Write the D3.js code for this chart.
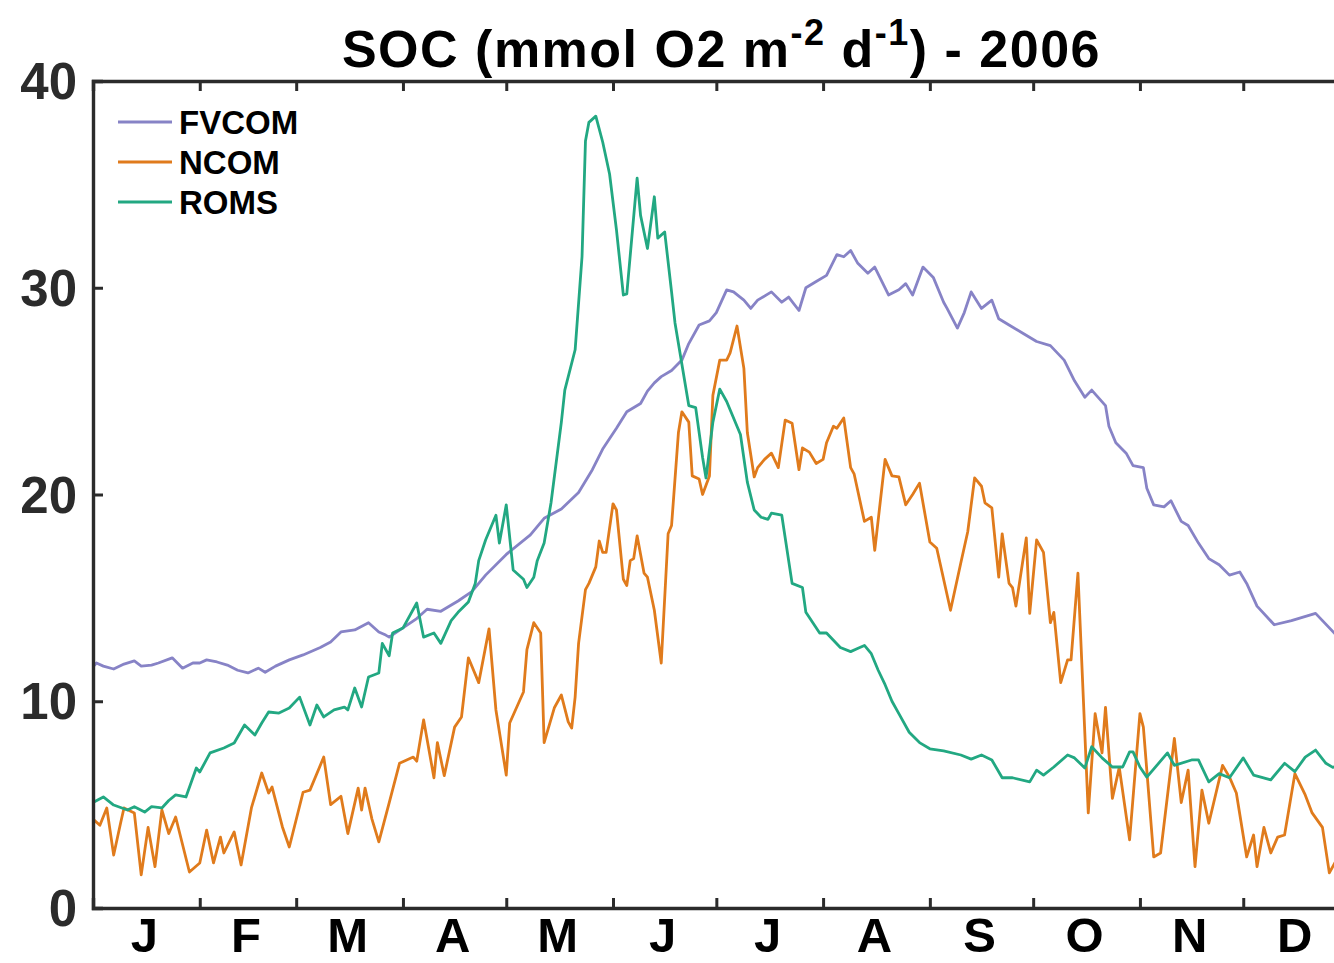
<!DOCTYPE html>
<html>
<head>
<meta charset="utf-8">
<script src="https://cdn.jsdelivr.net/npm/d3@7/dist/d3.min.js"></script>
<style>
  html, body { margin: 0; padding: 0; background: #fff; overflow: hidden; }
  svg { display: block; font-family: "Liberation Sans", Arial, Helvetica, sans-serif; }
</style>
</head>
<body>
<svg id="chart" width="1334" height="963"></svg>
<script>
// Sediment oxygen consumption, 2006 — day of year (0 = 1 Jan) and value pairs per model
const fvcomDays = [0,1,3,6,9,12,14,17,19,23,26,29,31,33,36,39,42,45,48,50,53,57,61,66,69,72,76,80,83,85,86,90,94,97,101,106,110,114,120,127,131,136,141,145,148,152,155,159,161,163,165,168,171,173,176,179,181,184,186,189,191,193,197,200,202,205,207,210,213,216,218,220,222,225,227,231,234,236,238,241,244,247,248,251,253,255,258,261,263,266,270,274,278,282,285,288,290,294,295,297,300,302,305,306,308,311,313,316,318,321,324,327,330,333,335,338,343,348,355,361];
const fvcomVals = [11.66,11.85,11.7,11.56,11.8,11.95,11.7,11.75,11.85,12.1,11.6,11.85,11.85,12.0,11.9,11.75,11.5,11.37,11.6,11.4,11.7,12.0,12.24,12.6,12.87,13.35,13.45,13.8,13.35,13.2,13.1,13.55,14.0,14.45,14.35,14.85,15.3,16.1,17.1,18.05,18.85,19.3,20.1,21.2,22.2,23.2,24.0,24.4,25.0,25.4,25.7,26.0,26.5,27.3,28.2,28.4,28.8,29.9,29.8,29.4,29.0,29.4,29.8,29.3,29.55,28.9,30.0,30.3,30.6,31.6,31.5,31.8,31.2,30.7,31.0,29.65,29.9,30.2,29.65,31.0,30.5,29.3,29.0,28.05,28.8,29.8,29.0,29.4,28.5,28.2,27.8,27.4,27.2,26.5,25.5,24.7,25.05,24.3,23.3,22.5,22.0,21.4,21.3,20.3,19.5,19.4,19.7,18.7,18.5,17.65,16.9,16.6,16.1,16.25,15.7,14.6,13.7,13.9,14.25,13.2];

const ncomDays = [0,2,4,6,8,9,12,14,16,18,20,22,24,28,31,33,35,37,38,41,43,46,49,51,52,55,57,61,63,67,69,72,74,77,78,79,81,83,86,89,93,94,96,99,100,102,105,107,109,112,115,117,120,121,125,126,128,130,131,134,136,138,139,140,141,143,144,146,147,148,149,151,152,154,155,156,157,158,160,161,163,165,167,168,170,171,173,174,176,177,179,180,182,184,185,187,189,190,192,193,195,197,199,201,203,205,206,208,210,212,213,215,216,218,220,221,224,226,227,230,232,234,236,238,240,243,245,249,252,254,256,258,259,261,263,264,266,267,268,271,272,274,276,278,279,281,283,284,286,289,291,293,294,296,298,301,304,305,308,310,314,316,318,320,322,324,328,330,332,335,337,338,340,342,344,346,349,352,354,357,359,361];
const ncomVals = [4.3,4.0,4.84,2.56,4.1,4.84,4.6,1.6,3.9,2.0,4.74,3.6,4.4,1.74,2.18,3.77,2.18,3.43,2.66,3.68,2.08,4.84,6.53,5.56,5.85,3.92,2.95,5.6,5.7,7.3,5.0,5.4,3.6,5.8,4.74,5.8,4.3,3.2,5.08,7.0,7.3,7.1,9.1,6.3,8.0,6.4,8.75,9.24,12.1,10.9,13.5,9.58,6.43,8.95,10.45,12.5,13.8,13.3,8.0,9.7,10.3,9.0,8.7,10.2,12.8,15.4,15.7,16.5,17.75,17.2,17.2,19.55,19.25,15.9,15.6,16.8,16.9,18.0,16.2,16.0,14.4,11.85,18.1,18.5,23.0,24.0,23.5,20.9,20.75,20.0,20.9,24.8,26.5,26.5,26.85,28.15,26.1,23.0,20.85,21.3,21.7,22.0,21.3,23.6,23.45,21.2,22.25,22.05,21.5,21.7,22.5,23.3,23.2,23.7,21.3,21.0,18.7,18.9,17.3,21.7,20.9,20.85,19.5,20.0,20.55,17.7,17.4,14.4,16.7,18.2,20.8,20.4,19.6,19.35,16.0,18.1,15.7,15.5,14.6,17.9,14.25,17.8,17.2,13.8,14.3,10.9,12.0,12.0,16.2,4.6,9.4,7.5,9.7,5.3,6.8,3.3,9.4,8.75,2.47,2.66,8.2,5.1,6.67,2.0,5.7,4.1,6.9,6.33,5.56,2.47,3.53,2.0,3.9,2.66,3.43,3.53,6.5,5.47,4.6,3.9,1.7,2.3];

const romsDays = [0,3,6,10,12,15,17,20,22,24,27,30,31,34,38,41,44,47,49,51,54,57,60,63,65,67,70,73,74,76,78,80,83,84,86,87,90,94,96,99,101,104,106,109,111,112,114,117,118,120,122,125,126,128,129,131,133,136,137,140,142,143,144,146,148,150,152,154,155,158,159,161,163,164,166,168,169,173,175,177,178,180,182,184,188,190,192,194,196,197,200,203,206,207,211,213,217,220,222,224,226,228,230,232,234,237,240,243,247,252,255,258,261,264,267,272,274,276,279,283,285,288,290,293,296,299,301,302,304,306,312,314,319,321,324,327,330,334,337,342,346,349,352,355,358,360,362];
const romsVals = [5.1,5.37,4.98,4.74,4.9,4.64,4.9,4.84,5.2,5.47,5.37,6.77,6.58,7.5,7.74,7.98,8.85,8.37,8.95,9.48,9.43,9.67,10.2,8.85,9.82,9.24,9.58,9.72,9.58,10.64,9.72,11.17,11.37,12.8,12.2,13.3,13.54,14.75,13.1,13.3,12.8,13.9,14.3,14.8,15.7,16.8,17.8,19.0,17.65,19.5,16.35,15.9,15.5,16.0,16.8,17.65,19.6,23.5,25.05,27.0,31.5,37.1,38.0,38.3,37.05,35.5,32.8,29.65,29.7,35.3,33.5,31.9,34.4,32.4,32.7,29.8,28.3,24.3,24.2,21.8,20.8,23.5,25.1,24.5,22.9,20.6,19.25,18.9,18.8,19.1,19.0,15.7,15.5,14.3,13.3,13.3,12.6,12.4,12.55,12.7,12.3,11.5,10.8,10.0,9.4,8.5,8.0,7.7,7.6,7.4,7.2,7.4,7.16,6.3,6.3,6.1,6.67,6.43,6.82,7.4,7.26,6.77,7.8,7.26,6.82,6.82,7.55,7.55,6.82,6.33,7.5,6.9,7.16,7.16,6.1,6.5,6.3,7.26,6.43,6.2,7.0,6.6,7.3,7.64,7.0,6.8,6.9];

const seriesNames = ["FVCOM", "NCOM", "ROMS"];
const seriesColors = ["#8783c6", "#e07b1c", "#22a882"];

const monthStarts = [0,31,59,90,120,151,181,212,243,273,304,334,365];
const monthLabels = ["J","F","M","A","M","J","J","A","S","O","N","D"];
const yTicks = [0,10,20,30,40];

const svg = d3.select("#chart");
const plotLeft = 93, plotRight = 1350, plotTop = 81, plotBottom = 908;
const axisColor = "#2b2b2b";

const x = d3.scaleLinear().domain([0, 365]).range([plotLeft, plotRight]);
const y = d3.scaleLinear().domain([0, 40]).range([plotBottom, plotTop]);

const series = [
  { days: fvcomDays, vals: fvcomVals },
  { days: ncomDays, vals: ncomVals },
  { days: romsDays, vals: romsVals }
];

const line = d3.line().x(d => x(d[0])).y(d => y(d[1]));

// Data lines
series.forEach((s, i) => {
  svg.append("path")
    .datum(s.days.map((d, k) => [d, s.vals[k]]))
    .attr("fill", "none")
    .attr("stroke", seriesColors[i])
    .attr("stroke-width", 2.8)
    .attr("stroke-linejoin", "round")
    .attr("d", line);
});

// Axes: month ticks inward on bottom and top, value ticks inward on left and right
const gBottom = svg.append("g").attr("transform", `translate(0,${plotBottom})`)
  .call(d3.axisBottom(x).tickValues(monthStarts).tickSize(-10).tickFormat(""));
const gTop = svg.append("g").attr("transform", `translate(0,${plotTop})`)
  .call(d3.axisTop(x).tickValues(monthStarts).tickSize(-10).tickFormat(""));
const gLeft = svg.append("g").attr("transform", `translate(${plotLeft},0)`)
  .call(d3.axisLeft(y).tickValues(yTicks).tickSize(-10).tickFormat(""));
const gRight = svg.append("g").attr("transform", `translate(${plotRight},0)`)
  .call(d3.axisRight(y).tickValues(yTicks).tickSize(-10).tickFormat(""));

[gBottom, gTop, gLeft, gRight].forEach(g => {
  g.select(".domain").attr("stroke", axisColor).attr("stroke-width", 3.4);
  g.selectAll(".tick line").attr("stroke", axisColor).attr("stroke-width", 3);
});

// Month labels centred on each month
const monthMids = monthLabels.map((m, i) => (monthStarts[i] + monthStarts[i + 1]) / 2);
svg.append("g").selectAll("text")
  .data(monthLabels)
  .join("text")
  .attr("x", (d, i) => x(monthMids[i]) - 2)
  .attr("y", 952)
  .attr("text-anchor", "middle")
  .attr("font-size", 49)
  .attr("font-weight", "bold")
  .attr("fill", "#000")
  .text(d => d);

// Value labels
svg.append("g").selectAll("text")
  .data(yTicks)
  .join("text")
  .attr("x", 77)
  .attr("y", d => y(d) + 18)
  .attr("text-anchor", "end")
  .attr("font-size", 51)
  .attr("font-weight", "bold")
  .attr("fill", axisColor)
  .text(d => d);

// Title with superscripts
const title = svg.append("text")
  .attr("x", (plotLeft + plotRight) / 2)
  .attr("y", 67)
  .attr("text-anchor", "middle")
  .attr("font-size", 52)
  .attr("letter-spacing", 1.5)
  .attr("font-weight", "bold")
  .attr("fill", "#000");
title.append("tspan").text("SOC (mmol O2 m");
title.append("tspan").attr("dy", -22).attr("font-size", 36).text("-2");
title.append("tspan").attr("dy", 22).text(" d");
title.append("tspan").attr("dy", -22).attr("font-size", 36).text("-1");
title.append("tspan").attr("dy", 22).text(") - 2006");

// Legend
const legend = svg.append("g");
seriesNames.forEach((n, i) => {
  const ly = 122 + i * 40;
  legend.append("line")
    .attr("x1", 118).attr("x2", 172)
    .attr("y1", ly).attr("y2", ly)
    .attr("stroke", seriesColors[i])
    .attr("stroke-width", 2.8);
  legend.append("text")
    .attr("x", 179)
    .attr("y", ly + 12)
    .attr("font-size", 33)
    .attr("font-weight", "bold")
    .attr("fill", "#000")
    .text(n);
});
</script>
</body>
</html>
